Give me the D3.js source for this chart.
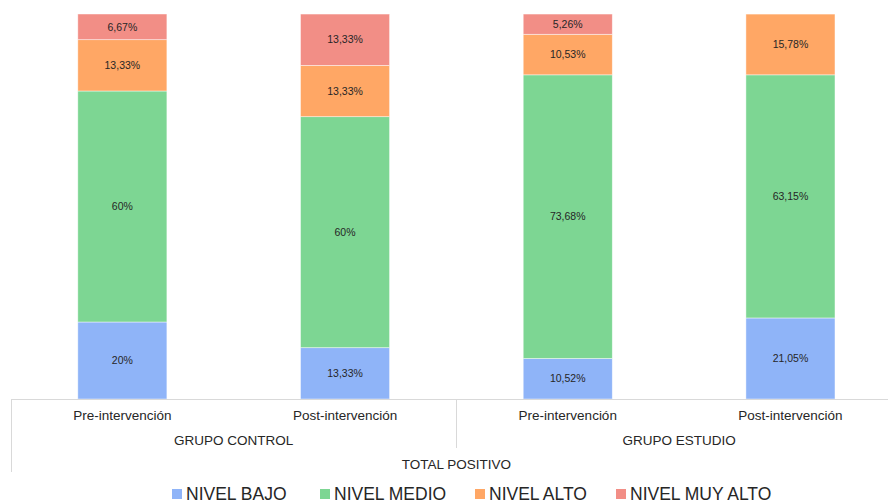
<!DOCTYPE html>
<html>
<head>
<meta charset="utf-8">
<script src="https://cdn.jsdelivr.net/npm/d3@7"></script>
<style>
  body { margin: 0; background: #fff; }
  svg { display: block; font-family: "Liberation Sans", Arial, sans-serif; }
</style>
</head>
<body>
<script>
// data
var groups = ["GRUPO CONTROL", "GRUPO ESTUDIO"];
var phases = ["Pre-intervención", "Post-intervención"];
var outerLabel = "TOTAL POSITIVO";
var seriesNames = ["NIVEL BAJO", "NIVEL MEDIO", "NIVEL ALTO", "NIVEL MUY ALTO"];
var nivelBajo    = [20, 13.33, 10.52, 21.05];
var nivelMedio   = [60, 60, 73.68, 63.15];
var nivelAlto    = [13.33, 13.33, 10.53, 15.78];
var nivelMuyAlto = [6.67, 13.33, 5.26, 0];
var colors = ["#8fb4f8", "#7dd693", "#ffa765", "#f28e86"];

var width = 888, height = 504;
var plotLeft = 11, plotTop = 14, plotBottom = 399;
var step = 222.7;

// build rows for the stack
var cats = [];
groups.forEach(function(g) {
  phases.forEach(function(p) { cats.push({group: g, phase: p, key: g + "|" + p}); });
});
var vals = [nivelBajo, nivelMedio, nivelAlto, nivelMuyAlto];
var rows = cats.map(function(c, i) {
  var r = {key: c.key};
  seriesNames.forEach(function(s, j) { r[s] = vals[j][i]; });
  return r;
});

var x = d3.scaleBand()
    .domain(cats.map(function(c) { return c.key; }))
    .range([plotLeft, plotLeft + step * cats.length])
    .paddingInner(0.6)
    .paddingOuter(0.3);
var xGroup = d3.scaleBand()
    .domain(groups)
    .range([plotLeft, plotLeft + step * cats.length]);
var y = d3.scaleLinear().domain([0, 100]).range([plotBottom, plotTop]);
var color = d3.scaleOrdinal().domain(seriesNames).range(colors);

var stack = d3.stack().keys(seriesNames);
var stacked = stack(rows);

var svg = d3.select("body").append("svg")
    .attr("width", width)
    .attr("height", height);

function fmt(v) {
  if (v % 1 === 0) return v + "%";
  return v.toFixed(2).replace(".", ",") + "%";
}

// bars
var layer = svg.selectAll("g.layer")
    .data(stacked)
  .enter().append("g")
    .attr("class", "layer")
    .attr("fill", function(d) { return color(d.key); });

layer.selectAll("rect")
    .data(function(d) { return d.filter(function(e) { return e[1] - e[0] > 0; }); })
  .enter().append("rect")
    .attr("x", function(d) { return x(d.data.key); })
    .attr("width", x.bandwidth())
    .attr("y", function(d) { return y(d[1]); })
    .attr("height", function(d) { return y(d[0]) - y(d[1]); })
    .attr("stroke", "#fff")
    .attr("stroke-opacity", 0.6)
    .attr("stroke-width", 0.75);

// value labels
layer.selectAll("text")
    .data(function(d) {
      var k = d.key;
      return d.filter(function(e) { return e[1] - e[0] > 0; })
              .map(function(e) { return {e: e, v: e.data[k]}; });
    })
  .enter().append("text")
    .attr("x", function(d) { return x(d.e.data.key) + x.bandwidth() / 2; })
    .attr("y", function(d) { return (y(d.e[0]) + y(d.e[1])) / 2; })
    .attr("dy", "0.35em")
    .attr("text-anchor", "middle")
    .attr("font-size", "10.5px")
    .attr("fill", "#262626")
    .text(function(d) { return fmt(d.v); });

// category axis (multi-level)
var axisColor = "#d9d9d9";
svg.append("line")
    .attr("x1", plotLeft).attr("x2", width)
    .attr("y1", plotBottom + 0.5).attr("y2", plotBottom + 0.5)
    .attr("stroke", axisColor);
svg.append("line")
    .attr("x1", plotLeft + 0.5).attr("x2", plotLeft + 0.5)
    .attr("y1", plotBottom).attr("y2", 472)
    .attr("stroke", axisColor);
groups.slice(1).forEach(function(g) {
  var gx = Math.round(xGroup(g)) + 0.5;
  svg.append("line")
      .attr("x1", gx).attr("x2", gx)
      .attr("y1", plotBottom).attr("y2", 448)
      .attr("stroke", axisColor);
});

svg.selectAll("text.phase")
    .data(cats)
  .enter().append("text")
    .attr("class", "phase")
    .attr("x", function(d) { return x(d.key) + x.bandwidth() / 2; })
    .attr("y", 415)
    .attr("dy", "0.35em")
    .attr("text-anchor", "middle")
    .attr("font-size", "13.5px")
    .attr("fill", "#262626")
    .text(function(d) { return d.phase; });

svg.selectAll("text.group")
    .data(groups)
  .enter().append("text")
    .attr("class", "group")
    .attr("x", function(d) { return xGroup(d) + xGroup.bandwidth() / 2; })
    .attr("y", 440)
    .attr("dy", "0.35em")
    .attr("text-anchor", "middle")
    .attr("font-size", "13.5px")
    .attr("fill", "#262626")
    .text(function(d) { return d; });

svg.append("text")
    .attr("x", plotLeft + step * cats.length / 2)
    .attr("y", 464)
    .attr("dy", "0.35em")
    .attr("text-anchor", "middle")
    .attr("font-size", "13.5px")
    .attr("fill", "#262626")
    .text(outerLabel);

// legend
var legendX = [172, 320, 475, 616];
var legend = svg.selectAll("g.legend")
    .data(seriesNames)
  .enter().append("g")
    .attr("class", "legend")
    .attr("transform", function(d, i) { return "translate(" + legendX[i] + ",494)"; });
legend.append("rect")
    .attr("x", 0).attr("y", -5)
    .attr("width", 10).attr("height", 10)
    .attr("fill", function(d) { return color(d); });
legend.append("text")
    .attr("x", 14)
    .attr("y", 0)
    .attr("dy", "0.36em")
    .attr("font-size", "17.5px")
    .attr("fill", "#262626")
    .text(function(d) { return d; });
</script>
</body>
</html>
